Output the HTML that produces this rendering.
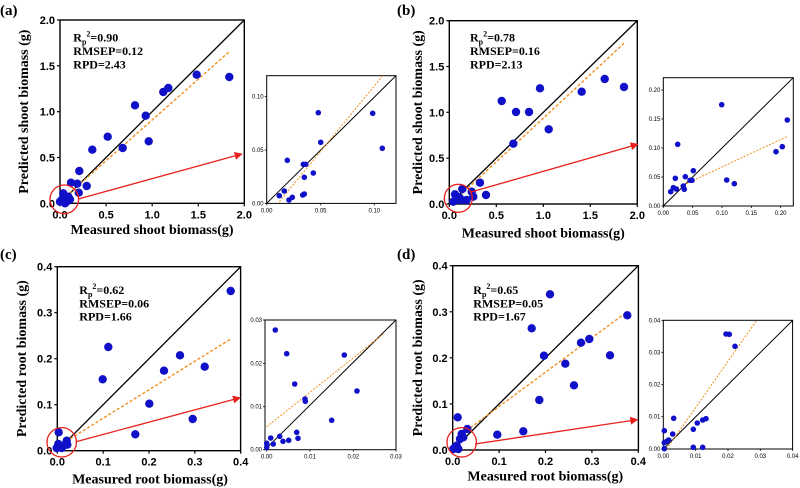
<!DOCTYPE html>
<html><head><meta charset="utf-8"><style>
html,body{margin:0;padding:0;background:#fff;width:800px;height:488px;overflow:hidden}
svg{display:block}
</style></head><body>
<svg id="s" width="800" height="488" xmlns="http://www.w3.org/2000/svg"></svg>
<script>
var P=[
{ox:0,oy:0,lab:"(a)",labx:0,laby:15,m:[180,733,60,610],mt:["0.0","0.5","1.0","1.5","2.0"],
 pts:[[590,224],[688,231],[490,276],[505,264],[405,316],[437,347],[323,410],[446,424],[368,444],[277,449],[238,513],[213,548],[232,551],[260,558],[236,578],[185,600],[195,595],[205,590],[180,605],[200,605],[190,580],[210,598],[195,610]],
 id:[[180,610],[733,60]],or:[[185,600],[688,155]],cc:[193,598,43],ar:[[235,597],[725,462]],
 tx:220,ty:[125,165,205],st:["0.90","0.12","2.43"],
 yl:"Predicted shoot biomass (g)",ylx:28,xl:"Measured shoot biomass(g)",xlx:456,xly:702,
 in:[800,1188,227,610],ix:[[800,"0.00"],[962,"0.05"],[1123,"0.10"]],iy:[[610,"0.00"],[450,"0.05"],[290,"0.10"]],
 ipts:[[838,587],[853,573],[867,600],[877,592],[862,481],[908,585],[913,582],[913,532],[917,493],[910,493],[940,519],[955,338],[962,427],[1118,340],[1147,445]],
 iid:[[800,610],[1188,227]],ior:[[838,605],[1148,227]]},
{ox:400,oy:0,lab:"(b)",labx:397,laby:15,m:[148,712,62,612],mt:["0.0","0.5","1.0","1.5","2.0"],
 pts:[[305,303],[420,265],[348,336],[387,336],[545,275],[614,237],[672,261],[446,388],[340,431],[240,548],[258,585],[187,567],[215,575],[165,583],[170,600],[185,600],[160,605],[200,600],[178,592],[220,590]],
 id:[[148,612],[712,62]],or:[[160,605],[672,130]],cc:[175,595,42],ar:[[210,577],[713,433]],
 tx:210,ty:[125,165,205],st:["0.78","0.16","2.13"],
 yl:"Predicted shoot biomass (g)",ylx:22,xl:"Measured shoot biomass(g)",xlx:430,xly:712,
 in:[790,1180,233,618],ix:[[790,"0.00"],[878,"0.05"],[966,"0.10"],[1054,"0.15"],[1142,"0.20"]],iy:[[618,"0.00"],[531,"0.05"],[444,"0.10"],[357,"0.15"],[270,"0.20"]],
 ipts:[[812,575],[820,563],[826,535],[833,433],[829,567],[850,558],[856,530],[853,568],[870,541],[876,541],[880,512],[965,314],[980,540],[1003,551],[1128,455],[1147,440],[1162,360]],
 iid:[[790,618],[1180,233]],ior:[[812,573],[1160,410]]},
{ox:0,oy:244,lab:"(c)",labx:0,laby:259,m:[172,722,68,620],mt:["0.0","0.1","0.2","0.3","0.4"],
 pts:[[325,309],[308,406],[692,141],[540,334],[492,380],[614,368],[448,479],[578,525],[406,571],[176,565],[175,600],[190,605],[200,590],[185,612],[170,612],[202,602]],
 id:[[172,620],[722,68]],or:[[185,600],[692,285]],cc:[185,595,44],ar:[[228,593],[720,461]],
 tx:238,ty:[150,190,230],st:["0.62","0.06","1.66"],
 yl:"Predicted root biomass (g)",ylx:26,xl:"Measured root biomass(g)",xlx:450,xly:718,
 in:[795,1188,228,617],ix:[[800,"0.00"],[930,"0.01"],[1060,"0.02"],[1188,"0.03"]],iy:[[617,"0.00"],[488,"0.01"],[358,"0.02"],[228,"0.03"]],
 ipts:[[826,258],[860,329],[884,420],[915,465],[916,472],[1033,333],[1071,441],[995,529],[890,565],[894,583],[839,577],[849,592],[866,589],[812,582],[800,598],[800,610],[820,600]],
 iid:[[795,617],[1188,228]],ior:[[800,548],[1150,270]]},
{ox:400,oy:244,lab:"(d)",labx:397,laby:259,m:[158,715,65,618],mt:["0.0","0.1","0.2","0.3","0.4"],
 pts:[[450,151],[395,253],[543,296],[568,285],[432,335],[630,334],[496,359],[522,424],[418,468],[682,214],[370,562],[292,572],[173,520],[202,555],[185,570],[170,605],[165,610],[175,615],[160,615],[180,585],[190,580]],
 id:[[158,618],[715,65]],or:[[175,578],[682,203]],cc:[185,595,44],ar:[[225,600],[712,527]],
 tx:220,ty:[150,190,230],st:["0.65","0.05","1.67"],
 yl:"Predicted root biomass (g)",ylx:22,xl:"Measured root biomass(g)",xlx:436,xly:710,
 in:[790,1178,229,615],ix:[[790,"0.00"],[887,"0.01"],[984,"0.02"],[1081,"0.03"],[1178,"0.04"]],iy:[[615,"0.00"],[518,"0.01"],[422,"0.02"],[325,"0.03"],[229,"0.04"]],
 ipts:[[978,270],[988,271],[1005,307],[821,523],[818,570],[793,560],[806,588],[800,592],[793,596],[793,614],[880,556],[892,537],[908,528],[918,524],[880,610],[908,610]],
 iid:[[790,615],[1178,229]],ior:[[800,615],[1070,229]]}
];
var h='<defs><marker id="ah" markerWidth="8" markerHeight="8" refX="7" refY="4" orient="auto" markerUnits="userSpaceOnUse"><path d="M0,0 L8,4 L0,8 z" fill="#e8201c"/></marker></defs>';
var SF='font-family="Liberation Serif,serif" font-weight="bold"';
var SA='font-family="Liberation Sans,sans-serif" font-weight="bold"';
P.forEach(function(p){
 function X(v){return (p.ox+v/3).toFixed(1)}
 function Y(v){return (p.oy+v/3).toFixed(1)}
 var m=p.m;
 h+='<text x="'+p.labx+'" y="'+p.laby+'" '+SF+' font-size="15">'+p.lab+'</text>';
 h+='<rect x="'+X(m[0])+'" y="'+Y(m[2])+'" width="'+((m[1]-m[0])/3).toFixed(1)+'" height="'+((m[3]-m[2])/3).toFixed(1)+'" fill="none" stroke="#000" stroke-width="1.4"/>';
 for(var i=0;i<5;i++){
  var xv=m[0]+(m[1]-m[0])*i/4, yv=m[3]-(m[3]-m[2])*i/4;
  h+='<line x1="'+X(xv)+'" y1="'+Y(m[3])+'" x2="'+X(xv)+'" y2="'+(p.oy+m[3]/3+3)+'" stroke="#000" stroke-width="1.2"/>';
  h+='<line x1="'+(p.ox+m[0]/3-3)+'" y1="'+Y(yv)+'" x2="'+X(m[0])+'" y2="'+Y(yv)+'" stroke="#000" stroke-width="1.2"/>';
  h+='<text x="'+X(xv)+'" y="'+(p.oy+m[3]/3+15)+'" '+SA+' font-size="11" text-anchor="middle">'+p.mt[i]+'</text>';
  h+='<text x="'+(p.ox+m[0]/3-5)+'" y="'+(p.oy+yv/3+4)+'" '+SA+' font-size="11" text-anchor="end">'+p.mt[i]+'</text>';
 }
 h+='<line x1="'+X(p.id[0][0])+'" y1="'+Y(p.id[0][1])+'" x2="'+X(p.id[1][0])+'" y2="'+Y(p.id[1][1])+'" stroke="#000" stroke-width="1.3"/>';
 h+='<line x1="'+X(p.or[0][0])+'" y1="'+Y(p.or[0][1])+'" x2="'+X(p.or[1][0])+'" y2="'+Y(p.or[1][1])+'" stroke="#f0901e" stroke-width="1.4" stroke-dasharray="3,2"/>';
 p.pts.forEach(function(q){h+='<circle cx="'+X(q[0])+'" cy="'+Y(q[1])+'" r="4.2" fill="#1010c8"/>';});
 h+='<circle cx="'+X(p.cc[0])+'" cy="'+Y(p.cc[1])+'" r="'+(p.cc[2]/3).toFixed(1)+'" fill="none" stroke="#e8201c" stroke-width="1.3"/>';
 h+='<line x1="'+X(p.ar[0][0])+'" y1="'+Y(p.ar[0][1])+'" x2="'+X(p.ar[1][0])+'" y2="'+Y(p.ar[1][1])+'" stroke="#e8201c" stroke-width="1.3" marker-end="url(#ah)"/>';
 var tx=X(p.tx);
 h+='<text x="'+tx+'" y="'+Y(p.ty[0])+'" '+SF+' font-size="12">R<tspan font-size="8" dy="3">p</tspan><tspan font-size="8" dy="-8">2</tspan><tspan dy="5">=' +p.st[0]+'</tspan></text>';
 h+='<text x="'+tx+'" y="'+Y(p.ty[1])+'" '+SF+' font-size="12">RMSEP='+p.st[1]+'</text>';
 h+='<text x="'+tx+'" y="'+Y(p.ty[2])+'" '+SF+' font-size="12">RPD='+p.st[2]+'</text>';
 var yc=p.oy+(m[2]+m[3])/6;
 h+='<text transform="translate('+(p.ox+p.ylx)+','+yc+') rotate(-90)" '+SF+' font-size="14" text-anchor="middle">'+p.yl+'</text>';
 h+='<text x="'+X(p.xlx)+'" y="'+Y(p.xly)+'" '+SF+' font-size="14" text-anchor="middle">'+p.xl+'</text>';
 var n=p.in;
 h+='<rect x="'+X(n[0])+'" y="'+Y(n[2])+'" width="'+((n[1]-n[0])/3).toFixed(1)+'" height="'+((n[3]-n[2])/3).toFixed(1)+'" fill="none" stroke="#000" stroke-width="1"/>';
 p.ix.forEach(function(t){
  h+='<line x1="'+X(t[0])+'" y1="'+Y(n[3])+'" x2="'+X(t[0])+'" y2="'+(p.oy+n[3]/3+2)+'" stroke="#000" stroke-width="0.8"/>';
  h+='<text x="'+X(t[0])+'" y="'+(p.oy+n[3]/3+9)+'" font-family="Liberation Sans,sans-serif" font-size="6" text-anchor="middle">'+t[1]+'</text>';});
 p.iy.forEach(function(t){
  h+='<line x1="'+(p.ox+n[0]/3-2)+'" y1="'+Y(t[0])+'" x2="'+X(n[0])+'" y2="'+Y(t[0])+'" stroke="#000" stroke-width="0.8"/>';
  h+='<text x="'+(p.ox+n[0]/3-3)+'" y="'+(p.oy+t[0]/3+2)+'" font-family="Liberation Sans,sans-serif" font-size="6" text-anchor="end">'+t[1]+'</text>';});
 h+='<line x1="'+X(p.iid[0][0])+'" y1="'+Y(p.iid[0][1])+'" x2="'+X(p.iid[1][0])+'" y2="'+Y(p.iid[1][1])+'" stroke="#000" stroke-width="1"/>';
 h+='<line x1="'+X(p.ior[0][0])+'" y1="'+Y(p.ior[0][1])+'" x2="'+X(p.ior[1][0])+'" y2="'+Y(p.ior[1][1])+'" stroke="#f0901e" stroke-width="1" stroke-dasharray="2,1.5"/>';
 p.ipts.forEach(function(q){h+='<circle cx="'+X(q[0])+'" cy="'+Y(q[1])+'" r="2.8" fill="#1010c8"/>';});
});
document.getElementById('s').innerHTML=h;
</script>
</body></html>
